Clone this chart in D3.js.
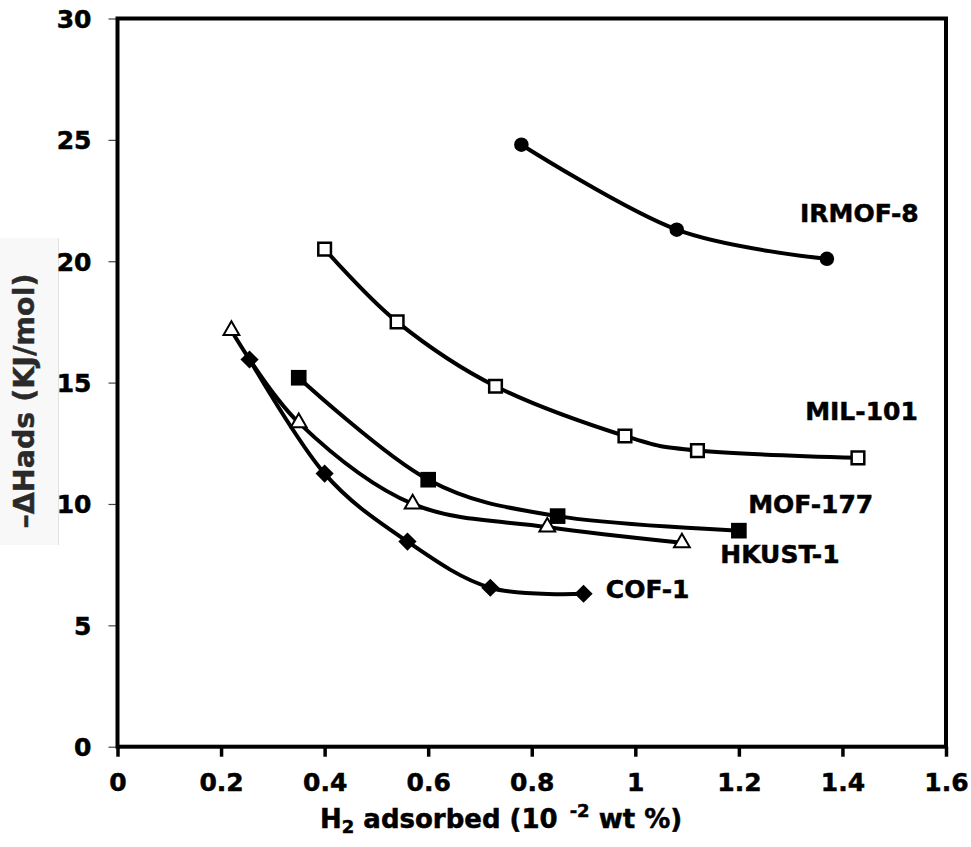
<!DOCTYPE html>
<html>
<head>
<meta charset="utf-8">
<script src="https://cdn.jsdelivr.net/npm/d3@7"></script>
<style>
  body { margin: 0; background: #fff; }
  text { font-family: "DejaVu Sans", Verdana, sans-serif; font-weight: bold; }
</style>
</head>
<body>
<div id="chart"></div>
<script>
// values
var xTicks = [0, 0.2, 0.4, 0.6, 0.8, 1, 1.2, 1.4, 1.6];
var yTicks = [0, 5, 10, 15, 20, 25, 30];

var irmof8X = [0.78, 1.08, 1.37];
var irmof8Y = [24.8, 21.3, 20.1];

var mil101X = [0.40, 0.54, 0.73, 0.98, 1.12, 1.43];
var mil101Y = [20.5, 17.5, 14.85, 12.8, 12.2, 11.9];

var mof177X = [0.35, 0.60, 0.85, 1.20];
var mof177Y = [15.2, 11.0, 9.5, 8.9];

var hkustX = [0.22, 0.35, 0.57, 0.83, 1.09];
var hkustY = [17.15, 13.35, 10.0, 9.05, 8.4];

var cof1X = [0.255, 0.40, 0.56, 0.72, 0.90];
var cof1Y = [15.95, 11.25, 8.45, 6.55, 6.3];

var seriesNames = ["IRMOF-8", "MIL-101", "MOF-177", "HKUST-1", "COF-1"];

// where each series name sits (left end, baseline), in data units
var labelX = [1.318, 1.328, 1.218, 1.164, 0.943];
var labelY = [21.6, 13.46, 9.64, 7.58, 6.11];

var W = 971, H = 847;
var x = d3.scaleLinear().domain([0, 1.6]).range([117.5, 946]);
var y = d3.scaleLinear().domain([0, 30]).range([746.7, 18.5]);

var svg = d3.select("#chart").append("svg")
    .attr("width", W)
    .attr("height", H);

// y title with its faint box
svg.append("rect")
    .attr("x", 0).attr("y", 238)
    .attr("width", 58).attr("height", 307)
    .attr("fill", "#f8f8f8");
svg.append("line")
    .attr("x1", 58.5).attr("x2", 58.5)
    .attr("y1", 238).attr("y2", 545)
    .attr("stroke", "#e2e2e2").attr("stroke-width", 1);
svg.append("text")
    .attr("transform", "translate(34,401) rotate(-90)")
    .attr("text-anchor", "middle")
    .attr("font-size", 28.5)
    .attr("fill", "#2a2a2a")
    .attr("stroke", "#2a2a2a").attr("stroke-width", 0.4)
    .text("\u2013\u0394Hads (KJ/mol)");

// left axis: thin ticks outside
var yAxis = svg.append("g")
    .attr("transform", "translate(" + x(0) + ",0)")
    .call(d3.axisLeft(y).tickValues(yTicks).tickSize(9).tickSizeOuter(0).tickFormat(d3.format("d")));
yAxis.select(".domain").remove();
yAxis.selectAll(".tick line").attr("stroke", "#444").attr("stroke-width", 1.2);
yAxis.selectAll(".tick text")
    .attr("x", -26)
    .attr("dy", "0.36em")
    .attr("font-size", 25)
    .attr("font-family", null)
    .attr("fill", "#000")
    .attr("stroke", "#000").attr("stroke-width", 0.5);

// bottom axis: thick ticks below
var xAxis = svg.append("g")
    .attr("transform", "translate(0," + y(0) + ")")
    .call(d3.axisBottom(x).tickValues(xTicks).tickSize(10).tickSizeOuter(0)
        .tickFormat(function(d) { return d3.format("")(+d.toFixed(1)); }));
xAxis.select(".domain").remove();
xAxis.selectAll(".tick line").attr("stroke", "#000").attr("stroke-width", 3.5);
xAxis.selectAll(".tick text")
    .attr("y", 44)
    .attr("dy", 0)
    .attr("font-size", 25)
    .attr("font-family", null)
    .attr("fill", "#000")
    .attr("stroke", "#000").attr("stroke-width", 0.5);

// frame
svg.append("rect")
    .attr("x", x(0)).attr("y", y(30))
    .attr("width", x(1.6) - x(0)).attr("height", y(0) - y(30))
    .attr("fill", "none")
    .attr("stroke", "#000")
    .attr("stroke-width", 4);

// x title
var xt = svg.append("text")
    .attr("x", 320).attr("y", 828)
    .attr("font-size", 26)
    .attr("fill", "#000")
    .attr("stroke", "#000").attr("stroke-width", 0.5);
xt.append("tspan").text("H");
xt.append("tspan").attr("font-size", 18).attr("dy", 5).text("2");
xt.append("tspan").attr("dy", -5).text(" adsorbed (10");
xt.append("tspan").attr("font-size", 18).attr("dx", 12).attr("dy", -11).text("-2");
xt.append("tspan").attr("dy", 11).text(" wt %)");

// series
function pts(xs, ys) { return xs.map(function(v, i) { return [v, ys[i]]; }); }

var series = [
  { name: seriesNames[0], data: pts(irmof8X, irmof8Y), shape: d3.symbolCircle, size: 165, fill: "#000", sw: 0, rot: 0 },
  { name: seriesNames[1], data: pts(mil101X, mil101Y), shape: d3.symbolSquare, size: 160, fill: "#fff", sw: 2.5, rot: 0 },
  { name: seriesNames[2], data: pts(mof177X, mof177Y), shape: d3.symbolSquare, size: 245, fill: "#000", sw: 0, rot: 0 },
  { name: seriesNames[3], data: pts(hkustX, hkustY), shape: d3.symbolTriangle, size: 108, fill: "#fff", sw: 2, rot: 0 },
  { name: seriesNames[4], data: pts(cof1X, cof1Y), shape: d3.symbolSquare, size: 165, fill: "#000", sw: 0, rot: 45 }
];

var line = d3.line()
    .x(function(d) { return x(d[0]); })
    .y(function(d) { return y(d[1]); })
    .curve(d3.curveCardinal.tension(0));

svg.append("g").selectAll("path")
    .data(series)
    .enter().append("path")
    .attr("d", function(s) { return line(s.data); })
    .attr("fill", "none")
    .attr("stroke", "#000")
    .attr("stroke-width", 4);

series.forEach(function(s) {
  svg.append("g").selectAll("path")
      .data(s.data)
      .enter().append("path")
      .attr("transform", function(d) { return "translate(" + x(d[0]) + "," + y(d[1]) + ") rotate(" + s.rot + ")"; })
      .attr("d", d3.symbol().type(s.shape).size(s.size))
      .attr("fill", s.fill)
      .attr("stroke", "#000")
      .attr("stroke-width", s.sw);
});

svg.append("g").selectAll("text")
    .data(seriesNames)
    .enter().append("text")
    .attr("x", function(d, i) { return x(labelX[i]); })
    .attr("y", function(d, i) { return y(labelY[i]); })
    .attr("font-size", 25)
    .attr("fill", "#000")
    .attr("stroke", "#000").attr("stroke-width", 0.5)
    .text(function(d) { return d; });
</script>
</body>
</html>
